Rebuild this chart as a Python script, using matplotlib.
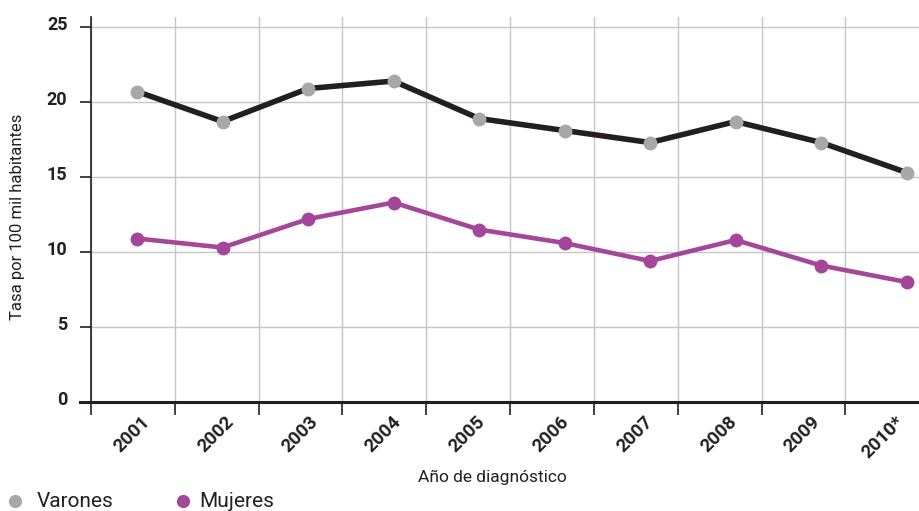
import numpy as np
import matplotlib
matplotlib.use("Agg")
import matplotlib.pyplot as plt
from matplotlib.lines import Line2D
from matplotlib.transforms import ScaledTranslation

plt.rcParams['font.family'] = ['Roboto', 'DejaVu Sans']

# datos
years = ["2001", "2002", "2003", "2004", "2005", "2006", "2007", "2008", "2009", "2010*"]
varones = [20.7, 18.7, 20.9, 21.4, 18.9, 18.1, 17.3, 18.7, 17.3, 15.3]
mujeres = [10.9, 10.3, 12.2, 13.3, 11.5, 10.6, 9.4, 10.8, 9.1, 8.0]
yticks = [0, 5, 10, 15, 20, 25]

c_var_line = "#231f20"
c_var_pt = "#a7a8ab"
c_muj = "#a4479a"
c_grid = "#c6c6c6"
c_txt = "#231f20"

fig = plt.figure(figsize=(9.2, 5.11), dpi=100)
ax = fig.add_axes([91/920, (511-402)/511, (920-91)/920, (402-17)/511])

n = len(years)
x_pts = 0.55 + 1.02*np.arange(n)   # los puntos se corren un poco respecto a la grilla
x_cells = np.arange(n) + 0.5

ax.plot(x_pts, varones, color=c_var_line, lw=4, zorder=3, solid_capstyle='round')
ax.plot(x_pts, varones, 'o', color=c_var_pt, ms=10, mec='none', zorder=4)
ax.plot(x_pts, mujeres, color=c_muj, lw=3.3, zorder=3, solid_capstyle='round')
ax.plot(x_pts, mujeres, 'o', color=c_muj, ms=10, mec='none', zorder=4)

ax.set_xlim(0, 9.89)
ax.set_ylim(0, 25.67)

# grilla
ax.set_yticks(yticks)
ax.set_yticklabels([str(v) for v in yticks], fontsize=13, fontweight='bold', color=c_txt)
ax.set_xticks(np.arange(n))
ax.set_xticklabels([])
ax.tick_params(axis='y', length=8, width=1.2, pad=9, color=c_txt)
ax.tick_params(axis='x', length=9, width=1.2, direction='out', color=c_txt)
ax.grid(True, color=c_grid, lw=1, zorder=0)
ax.set_axisbelow(True)

for s in ['top', 'right']:
    ax.spines[s].set_visible(False)
ax.spines['left'].set_linewidth(1.2)
ax.spines['left'].set_color(c_txt)
ax.spines['bottom'].set_linewidth(2.2)
ax.spines['bottom'].set_color(c_txt)
ax.spines['bottom'].set_bounds(-0.13, 9.89)

off = ScaledTranslation(0, 4/100, fig.dpi_scale_trans)
for lab in ax.get_yticklabels():
    lab.set_transform(lab.get_transform() + off)

# etiquetas de años
for xc, lab in zip(x_cells, years):
    ax.text(xc + 0.17, -1.15, lab, rotation=45, rotation_mode='anchor',
            ha='right', va='center', fontsize=13.5, fontweight='bold',
            color=c_txt, clip_on=False)

ax.set_ylabel("Tasa por 100 mil habitantes", fontsize=12, color=c_txt)
ax.yaxis.set_label_coords(-0.08, 0.48)
ax.text(0.484, -0.197, "Año de diagnóstico", transform=ax.transAxes,
        ha='center', va='center', fontsize=12.5, color=c_txt)

# leyenda
ly = 1 - 501/511
fig.add_artist(Line2D([15/920], [ly], marker='o', ms=9.5, color=c_var_pt, mec='none',
                      transform=fig.transFigure))
fig.text(37/920, ly, "Varones", fontsize=15, va='center', color=c_txt)
fig.add_artist(Line2D([183/920], [ly], marker='o', ms=9.5, color=c_muj, mec='none',
                      transform=fig.transFigure))
fig.text(199/920, ly, "Mujeres", fontsize=15, va='center', color=c_txt)

fig.savefig("out.png", dpi=100)
